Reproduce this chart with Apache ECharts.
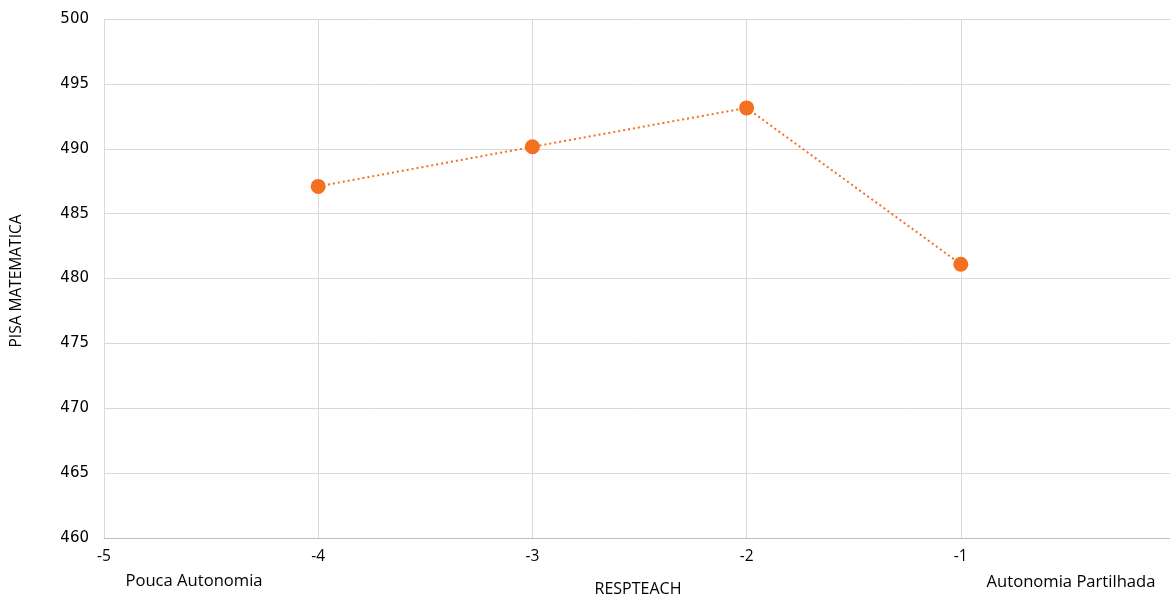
<!DOCTYPE html>
<html><head><meta charset="utf-8">
<script src="https://cdn.jsdelivr.net/npm/echarts@6/dist/echarts.min.js"></script>
<style>html,body{margin:0;padding:0;background:#fff}#c{width:1170px;height:596px}</style>
</head><body><div id="c"></div>
<script>
const xValues = [-4, -3, -2, -1];
const scores = [487.1, 490.15, 493.15, 481.1];
const xAxisName = 'RESPTEACH';
const yAxisName = 'PISA MATEMATICA';
const leftNote = 'Pouca Autonomia';
const rightNote = 'Autonomia Partilhada';

const chart = echarts.init(document.getElementById('c'));
chart.setOption({
  animation: false,
  grid: {left: 104, top: 19, width: 1071, height: 519, outerBoundsMode: 'none', containLabel: false},
  xAxis: {
    type: 'value', min: -5, max: 0, interval: 1,
    axisLine: {show: true, lineStyle: {color: '#bfbfbf', width: 1}},
    axisTick: {show: false},
    splitLine: {show: true, lineStyle: {color: '#d9d9d9', width: 1}},
    axisLabel: {color: '#000', fontSize: 15.5, fontFamily: 'Open Sans', margin: 11, showMaxLabel: true, hideOverlap: false}
  },
  yAxis: {
    type: 'value', min: 460, max: 500, interval: 5,
    axisLine: {show: true, lineStyle: {color: '#d9d9d9', width: 1}},
    axisTick: {show: false},
    splitLine: {show: true, lineStyle: {color: '#d9d9d9', width: 1}},
    axisLabel: {color: '#000', fontSize: 15, fontFamily: 'DejaVu Sans', margin: 15}
  },
  graphic: [
    {type: 'text', x: 17, y: 281, rotation: Math.PI / 2,
     style: {text: yAxisName, x: 0, y: 0, align: 'center', verticalAlign: 'middle', fontSize: 15.5, fontFamily: 'Open Sans', fill: '#000'}},
    {type: 'text', style: {text: xAxisName, x: 638, y: 589, align: 'center', verticalAlign: 'middle', fontSize: 16, fontFamily: 'Open Sans', fill: '#000'}},
    {type: 'text', style: {text: leftNote, x: 194, y: 581, align: 'center', verticalAlign: 'middle', fontSize: 16.6, fontFamily: 'Open Sans', fill: '#000'}},
    {type: 'text', style: {text: rightNote, x: 1071, y: 582, align: 'center', verticalAlign: 'middle', fontSize: 16.6, fontFamily: 'Open Sans', fill: '#000'}}
  ],
  series: [{
    type: 'line',
    data: xValues.map((x, i) => [x, scores[i]]),
    symbol: 'circle', symbolSize: 15,
    itemStyle: {color: '#F37021'},
    lineStyle: {color: '#F37021', width: 2, type: [2, 3]}
  }]
});
</script></body></html>
